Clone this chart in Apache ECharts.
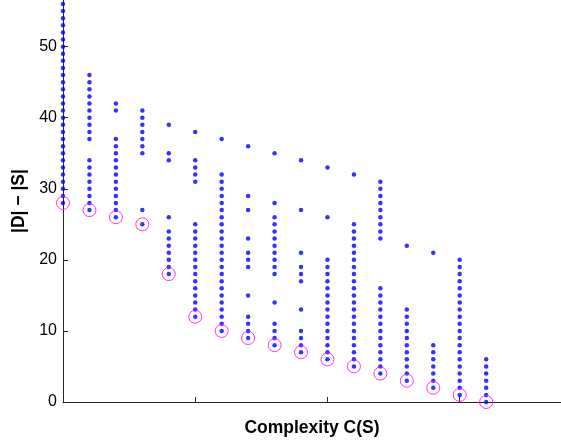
<!DOCTYPE html>
<html>
<head>
<meta charset="utf-8">
<script src="https://cdn.jsdelivr.net/npm/echarts@6/dist/echarts.min.js"></script>
<style>
  html, body { margin: 0; padding: 0; background: #fff; }
  #chart { width: 561px; height: 442px; }
</style>
</head>
<body>
<div id="chart"></div>
<script>
// complexity value of each column
var complexity = [0, 1, 2, 3, 4, 5, 6, 7, 8, 9, 10, 11, 12, 13, 14, 15, 16];

// |D| - |S| values found in each column
var col0 = [28, 29, 30, 31, 32, 33, 34, 35, 36, 37, 38, 39, 40, 41, 42, 43, 44, 45, 46, 47, 48, 49, 50, 51, 52, 53, 54, 55, 56];
var col1 = [27, 28, 29, 30, 31, 32, 33, 34, 37, 38, 39, 40, 41, 42, 43, 44, 45, 46];
var col2 = [26, 27, 28, 29, 30, 31, 32, 33, 34, 35, 36, 37, 41, 42];
var col3 = [25, 27, 35, 36, 37, 38, 39, 40, 41];
var col4 = [18, 19, 20, 21, 22, 23, 24, 26, 34, 35, 39];
var col5 = [12, 13, 14, 15, 16, 17, 18, 19, 20, 21, 22, 23, 24, 25, 31, 32, 33, 34, 38];
var col6 = [10, 11, 12, 13, 14, 15, 16, 17, 18, 19, 20, 21, 22, 23, 24, 25, 26, 27, 28, 29, 30, 31, 32, 37];
var col7 = [9, 10, 11, 12, 15, 19, 20, 21, 23, 27, 29, 36];
var col8 = [8, 9, 10, 11, 14, 18, 19, 20, 21, 22, 23, 24, 25, 26, 28, 35];
var col9 = [7, 8, 9, 10, 13, 17, 18, 19, 21, 27, 34];
var col10 = [6, 7, 8, 9, 10, 11, 12, 13, 14, 15, 16, 17, 18, 19, 20, 26, 33];
var col11 = [5, 6, 7, 8, 9, 10, 11, 12, 13, 14, 15, 16, 17, 18, 19, 20, 21, 22, 23, 24, 25, 32];
var col12 = [4, 5, 6, 7, 8, 9, 10, 11, 12, 13, 14, 15, 16, 23, 24, 25, 26, 27, 28, 29, 30, 31];
var col13 = [3, 4, 5, 6, 7, 8, 9, 10, 11, 12, 13, 22];
var col14 = [2, 3, 4, 5, 6, 7, 8, 21];
var col15 = [1, 2, 3, 4, 5, 6, 7, 8, 9, 10, 11, 12, 13, 14, 15, 16, 17, 18, 19, 20];
var col16 = [0, 1, 2, 3, 4, 5, 6];

// circled minimum of each column
var minimum = [28, 27, 26, 25, 18, 12, 10, 9, 8, 7, 6, 5, 4, 3, 2, 1, 0];

var yTicks = [0, 10, 20, 30, 40, 50];
var xTicks = [5, 10, 15];

var columns = [col0, col1, col2, col3, col4, col5, col6, col7, col8, col9,
               col10, col11, col12, col13, col14, col15, col16];

var dotData = [];
for (var i = 0; i < columns.length; i++) {
    for (var j = 0; j < columns[i].length; j++) {
        dotData.push([complexity[i], columns[i][j]]);
    }
}
var minData = [];
for (var k = 0; k < complexity.length; k++) {
    minData.push([complexity[k], minimum[k]]);
}

var myChart = echarts.init(document.getElementById('chart'));
var axisColor = '#262626';
var option = {
    animation: false,
    backgroundColor: '#fff',
    grid: { left: 63, right: 0, top: 0, bottom: 37, containLabel: false },
    xAxis: {
        type: 'value',
        min: 0,
        max: 18.83,
        name: 'Complexity C(S)',
        nameLocation: 'middle',
        nameGap: 17,
        nameTextStyle: { fontFamily: 'Liberation Sans, Arial', fontWeight: 'bold', fontSize: 17.5, color: '#000' },
        axisLine: { lineStyle: { color: axisColor, width: 1 } },
        axisTick: { show: true, inside: true, length: 5, customValues: xTicks, lineStyle: { color: axisColor } },
        axisLabel: { show: false },
        splitLine: { show: false }
    },
    yAxis: {
        type: 'value',
        min: 0,
        max: 56.56,
        name: '|D| \u2212 |S|',
        nameLocation: 'middle',
        nameGap: 34,
        nameRotate: 90,
        nameTextStyle: { fontFamily: 'Liberation Sans, Arial', fontWeight: 'bold', fontSize: 17.5, color: '#000' },
        axisLine: { show: true, lineStyle: { color: axisColor, width: 1 } },
        axisTick: { show: true, inside: true, length: 5, customValues: yTicks, lineStyle: { color: axisColor } },
        axisLabel: { customValues: yTicks, margin: 6, fontFamily: 'Liberation Sans, Arial', fontSize: 16, color: '#000' },
        splitLine: { show: false }
    },
    series: [
        {
            type: 'scatter',
            data: dotData,
            symbol: 'circle',
            symbolSize: 4.5,
            clip: false,
            itemStyle: { color: '#0000ff' }
        },
        {
            type: 'scatter',
            data: minData,
            symbol: 'circle',
            symbolSize: 13,
            clip: false,
            itemStyle: { color: 'rgba(0,0,0,0)', borderColor: '#ff00ff', borderWidth: 1 }
        }
    ]
};
myChart.setOption(option);
</script>
</body>
</html>
